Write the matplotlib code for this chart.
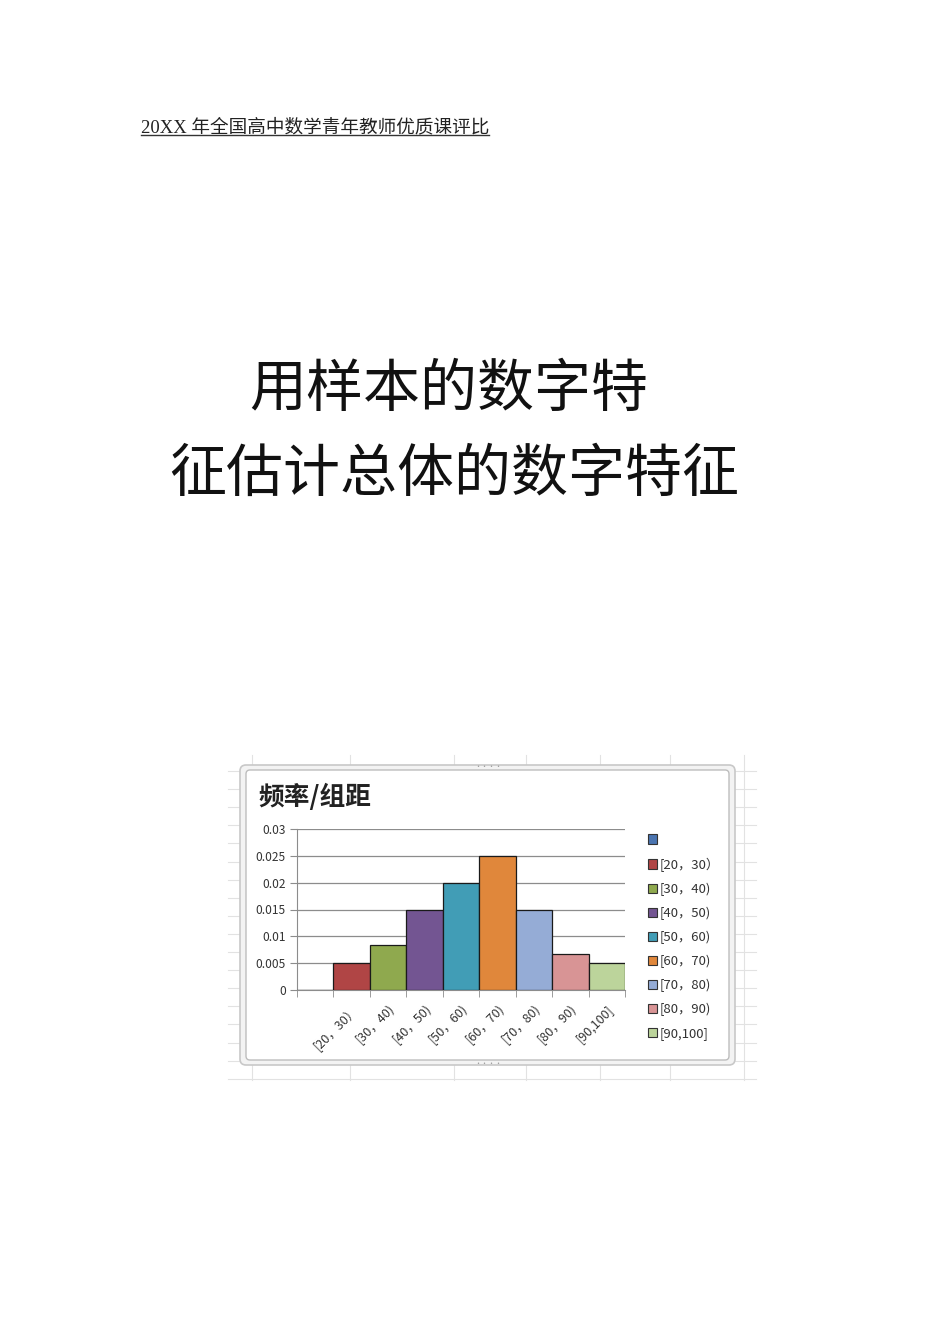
import numpy as np
import matplotlib.pyplot as plt
from matplotlib.patches import FancyBboxPatch, Patch

plt.rcParams['font.family'] = ['Noto Sans CJK SC', 'DejaVu Sans']

# 数据
bins = ['', '[20，30）', '[30，40)', '[40，50)', '[50，60)', '[60，70)', '[70，80)', '[80，90)', '[90,100]']
xlabels = ['', '[20，30）', '[30，40)', '[40，50)', '[50，60)', '[60，70)', '[70，80)', '[80，90)', '[90,100]']
freq = [0, 0.005, 0.0083, 0.015, 0.02, 0.025, 0.015, 0.0067, 0.005]
colors = ['#4a74b0', '#b04545', '#8fa94e', '#735592', '#419db6', '#e0873b', '#95acd6', '#d89495', '#bcd49b']
yticks = [0, 0.005, 0.01, 0.015, 0.02, 0.025, 0.03]
ytick_labels = ['0', '0.005', '0.01', '0.015', '0.02', '0.025', '0.03']

fig = plt.figure(figsize=(9.5, 13.44), dpi=100)

# 整页，像素坐标
page = fig.add_axes([0, 0, 1, 1])
page.set_xlim(0, 950)
page.set_ylim(1344, 0)
page.axis('off')

# 页眉
page.text(141, 132, '20XX 年全国高中数学青年教师优质课评比', fontsize=13.4,
          family=['Liberation Serif', 'Noto Sans CJK SC'], color='#222222', va='baseline')
page.plot([141, 489], [135, 135], color='#333333', lw=1)

# 大标题
page.text(449, 390, '用样本的数字特', fontsize=41, ha='center', va='center', color='#111111')
page.text(454, 475, '征估计总体的数字特征', fontsize=41, ha='center', va='center', color='#111111')

# 表格背景线
for gy in np.arange(771, 1080, 18.1):
    page.plot([228, 756], [gy, gy], color='#e2e2e2', lw=0.8, zorder=0)
for gx in [252, 350, 454, 526, 600, 670, 744]:
    page.plot([gx, gx], [755, 1080], color='#e2e2e2', lw=0.8, zorder=0)

# 图表边框
frame_out = FancyBboxPatch((240, 765), 495, 300, boxstyle='round,pad=0,rounding_size=6',
                           fc='#f3f3f3', ec='#c8c8c8', lw=1.2, zorder=1)
frame_in = FancyBboxPatch((246, 770), 483, 290, boxstyle='round,pad=0,rounding_size=4',
                          fc='white', ec='#bdbdbd', lw=1.0, zorder=2)
page.add_patch(frame_out)
page.add_patch(frame_in)
page.text(488, 767, '····', fontsize=5, ha='center', va='center', color='#999999', zorder=3)
page.text(488, 1064, '····', fontsize=5, ha='center', va='center', color='#999999', zorder=3)

page.text(258, 797, '频率/组距', fontsize=18.5, weight='bold', ha='left', va='center',
          color='#222222', zorder=3)

# 直方图
ax = fig.add_axes([297 / 950, 1 - 990 / 1344, 328 / 950, 161 / 1344])
ax.set_facecolor('none')
x = np.arange(len(bins))
ax.bar(x, freq, width=1.0, color=colors, edgecolor='#1a1a1a', linewidth=0.9, zorder=3)
ax.set_xlim(-0.5, len(bins) - 0.5)
ax.set_ylim(0, 0.03)
ax.set_yticks(yticks)
ax.set_yticklabels(ytick_labels)
ax.yaxis.grid(True, color='#8c8c8c', lw=0.9)
ax.set_axisbelow(True)
for s in ['top', 'right']:
    ax.spines[s].set_visible(False)
ax.spines['left'].set_color('#8c8c8c')
ax.spines['bottom'].set_color('#8c8c8c')
ax.tick_params(axis='y', length=5, color='#8c8c8c', labelsize=8.6, labelcolor='#333333', pad=3)
ax.set_xticks(np.append(x - 0.5, len(bins) - 0.5), minor=True)
ax.set_xticks(x)
ax.set_xticklabels(xlabels, rotation=45, ha='right', va='top', rotation_mode='anchor')
ax.tick_params(axis='x', which='major', length=0, labelsize=9, labelcolor='#333333', pad=9)
ax.tick_params(axis='x', which='minor', length=5, color='#8c8c8c')

handles = [Patch(facecolor=c, edgecolor='#333333', lw=0.8) for c in colors]
fig.legend(handles, bins, loc='upper left', bbox_to_anchor=(641 / 950, 1 - 827 / 1344),
           frameon=False, fontsize=9.5, handlelength=0.7, handleheight=0.7,
           handletextpad=0.22, labelspacing=0.82, borderpad=0, labelcolor='#333333')

fig.savefig('out.png', dpi=100)
